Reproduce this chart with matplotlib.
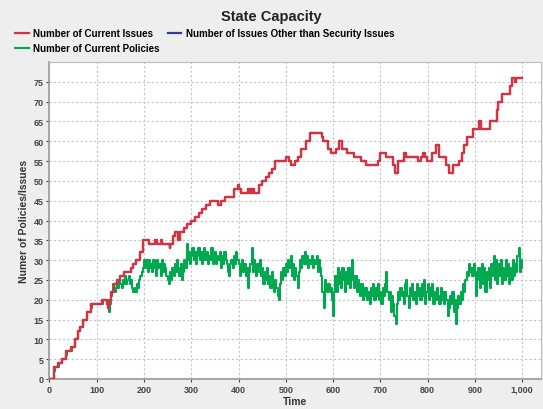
import numpy as np
import matplotlib
matplotlib.use("Agg")
import matplotlib.pyplot as plt
from matplotlib.ticker import FuncFormatter, MultipleLocator

plt.rcParams['font.family'] = ['Liberation Sans', 'DejaVu Sans']
plt.rcParams['font.weight'] = 'bold'

# Number of current issues: step change points (time, value)
issue_t = [0, 9, 18, 27, 36, 46, 54, 60, 64, 70, 80, 88, 112, 122, 124, 127, 131, 136,
           143, 150, 158, 172, 176, 184, 192, 198, 210, 224, 228, 235, 238, 254, 256,
           262, 266, 272, 276, 284, 292, 300, 308, 316, 322, 332, 340, 356, 362, 372,
           390, 398, 402, 405, 420, 424, 428, 432, 444, 450, 458, 464, 470, 478, 500,
           506, 510, 519, 526, 533, 543, 551, 572, 576, 579, 590, 595, 607, 613, 618,
           630, 645, 660, 670, 695, 699, 713, 727, 732, 737, 751, 755, 780, 786, 790,
           795, 798, 810, 818, 824, 840, 846, 854, 866, 872, 878, 884, 896, 908, 912,
           932, 946, 950, 958, 974, 978, 984, 988, 1000]
issue_v = [0, 3, 4, 5, 7, 8, 10, 12, 13, 15, 17, 19, 20, 19, 18, 20, 22, 24,
           25, 26, 27, 28, 29, 30, 32, 35, 34, 35, 34, 35, 34, 33, 34,
           36, 37, 35, 37, 38, 39, 40, 41, 42, 43, 44, 45, 44, 45, 46,
           48, 49, 48, 47, 48, 47, 48, 47, 49, 50, 51, 52, 53, 55, 56,
           55, 54, 55, 56, 58, 60, 62, 62, 61, 60, 58, 57, 58, 60, 58,
           57, 56, 55, 54, 55, 57, 56, 54, 52, 55, 57, 56, 55, 56, 57,
           56, 55, 57, 59, 56, 54, 52, 54, 55, 57, 59, 61, 63, 65, 63,
           65, 68, 70, 72, 74, 76, 75, 76, 76]

# issues other than security issues (hidden under the red line)
other_v = list(issue_v)

# Number of current policies, read every 2.5 time steps
policy_t = np.arange(0, 1000.1, 2.5)
policy_v = [0, 0, 0, 0, 2, 3, 3, 3, 4, 4, 4, 5, 5, 5, 6, 7, 7, 7, 7, 8,
            8, 8, 10, 10, 12, 12, 13, 13, 15, 15, 15, 15, 17, 17, 17, 18, 19, 19, 19, 19,
            19, 19, 19, 19, 19, 20, 20, 20, 20, 19,
            17, 19, 21, 22, 24, 22, 23, 24, 23, 25,
            24, 23, 25, 24, 26, 24, 25, 26, 24, 25,
            23, 22, 23, 22, 24, 23, 25, 26, 27, 28,
            30, 28, 30, 27, 30, 28, 29, 27, 30, 28,
            26, 30, 28, 29, 26, 30, 27, 29, 28, 26,
            25, 24, 27, 25, 28, 26, 29, 27, 30, 28,
            26, 29, 25, 27, 30, 28, 34, 30, 32, 29,
            31, 33, 30, 32, 29, 31, 33, 30, 32, 29,
            31, 33, 30, 32, 29, 31, 30, 33, 29, 31,
            32, 29, 31, 30, 32, 28, 31, 29, 32, 30,
            29, 27, 26, 29, 30, 28, 31, 29, 32, 30,
            29, 26, 28, 30, 27, 29, 26, 28, 23, 27,
            29, 33, 27, 30, 28, 26, 29, 27, 30, 26,
            28, 24, 27, 25, 28, 24, 26, 23, 27, 24,
            22, 25, 23, 21, 20, 24, 27, 25, 28, 26,
            29, 27, 30, 28, 31, 26, 29, 25, 28, 26,
            23, 27, 30, 28, 31, 29, 32, 29, 31, 28,
            30, 29, 31, 28, 30, 29, 31, 27, 30, 28,
            26, 22, 18, 25, 23, 22, 24, 22, 23, 20,
            16, 22, 26, 22, 28, 24, 27, 23, 28, 25,
            22, 27, 24, 28, 23, 26, 30, 25, 23, 26,
            22, 25, 23, 21, 24, 20, 23, 21, 23, 20,
            22, 19, 23, 21, 24, 20, 23, 21, 24, 20,
            22, 19, 23, 21, 24, 27, 22, 20, 22, 17,
            21, 19, 16, 14, 19, 22, 20, 23, 21, 22,
            19, 24, 25, 21, 18, 23, 21, 24, 20, 22,
            19, 24, 21, 23, 20, 24, 21, 25, 19, 22,
            24, 20, 23, 21, 24, 19, 22, 20, 23, 21,
            19, 23, 20, 22, 19, 22, 20, 16, 18, 21,
            19, 22, 17, 20, 14, 18, 21, 19, 22, 20,
            24, 22, 25, 27, 26, 29, 27, 28, 26, 29,
            27, 21, 25, 28, 23, 27, 29, 24, 28, 22,
            27, 25, 28, 23, 29, 26, 31, 25, 30, 24,
            29, 26, 30, 24, 28, 25, 30, 26, 29, 24,
            28, 25, 30, 26, 29, 27, 31, 33, 27, 30,
            28]

red = '#D9323D'
blue = '#2E3C9C'
green = '#00A84F'

fig = plt.figure(figsize=(5.43, 4.10), dpi=100, facecolor='#EEEEEE')
ax = fig.add_axes([49 / 543, 1 - 380 / 410, 492 / 543, 317 / 410])
ax.set_facecolor('white')

ax.plot(policy_t, policy_v, color=green, lw=1.5, drawstyle='steps-post',
        label='Number of Current Policies', zorder=3)
ax.plot(issue_t, other_v, color=blue, lw=1.6, drawstyle='steps-post',
        label='Number of Issues Other than Security Issues', zorder=4)
ax.plot(issue_t, issue_v, color=red, lw=1.6, drawstyle='steps-post',
        label='Number of Current Issues', zorder=5)

ax.set_xlim(-1, 1040)
ax.set_ylim(0, 80)
ax.xaxis.set_major_locator(MultipleLocator(100))
ax.set_yticks(range(0, 76, 5))
ax.xaxis.set_major_formatter(FuncFormatter(lambda v, p: f"{int(v):,}"))
ax.grid(True, color='#C4C4C4', linestyle=(0, (2, 2)), lw=0.8)
ax.tick_params(labelsize=6.5, colors='#444444', length=2, width=0.8, pad=2)
for lab in ax.get_xticklabels() + ax.get_yticklabels():
    lab.set_fontweight('bold')
for s in ['top', 'right']:
    ax.spines[s].set_color('#BBBBBB')
    ax.spines[s].set_linewidth(0.8)
for s in ['left', 'bottom']:
    ax.spines[s].set_color('#999999')
    ax.spines[s].set_linewidth(1.2)

ax.set_xlabel('Time', fontsize=7.5, fontweight='bold', color='#333333', labelpad=2)
ax.set_ylabel('Numer of Policies/Issues', fontsize=7.5, fontweight='bold',
              color='#333333', labelpad=3)

fig.text(0.5, 1 - 17 / 410, 'State Capacity', ha='center', va='center',
         fontsize=10.5, fontweight='bold', color='#222222')

h, l = ax.get_legend_handles_labels()
order = [2, 0, 1]
fig.legend([h[i] for i in order], [l[i] for i in order], ncol=2,
           loc='upper left', bbox_to_anchor=(15 / 543, 1 - 29 / 410),
           frameon=False, prop={'weight': 'bold', 'size': 7},
           handlelength=1.4, handletextpad=0.5, columnspacing=0.8,
           labelspacing=0.55, borderaxespad=0, borderpad=0)

fig.savefig('out.png', dpi=100, facecolor=fig.get_facecolor())
